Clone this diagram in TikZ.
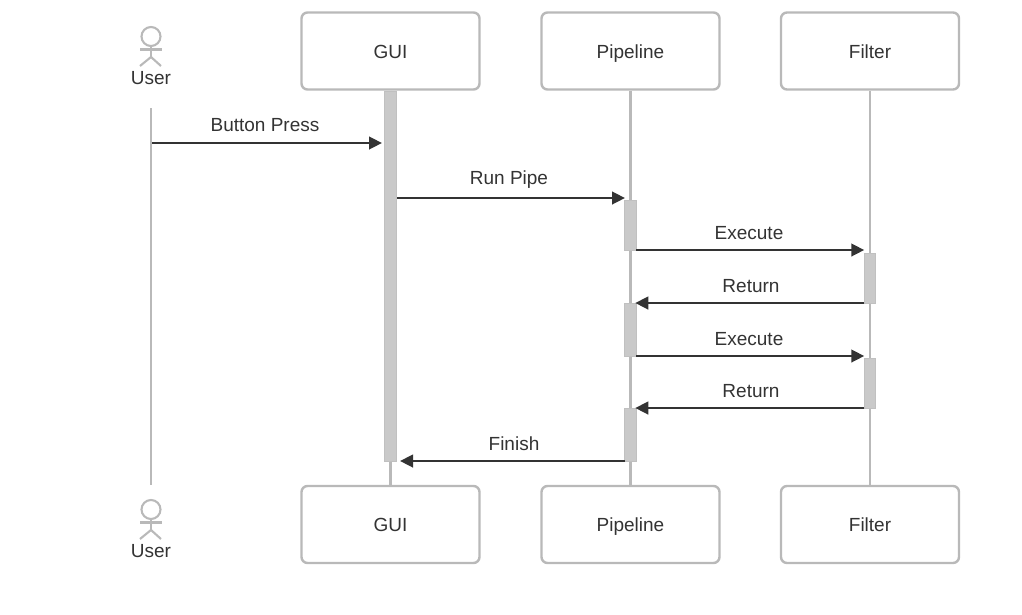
\documentclass[tikz,border=0pt]{standalone}
\usepackage{fontspec}
\setmainfont{Liberation Sans}
\usepackage{tikz}
\usetikzlibrary{arrows.meta,calc}
\definecolor{partgray}{HTML}{B9B9B9}
\definecolor{bargray}{HTML}{C9C9C9}
\definecolor{inkgray}{HTML}{333333}
\tikzset{
  partbox/.style={draw=partgray,line width=2.4pt,rounded corners=6pt,fill=white,
    minimum width=178pt,minimum height=77pt,inner sep=0pt,text=inkgray,
    text height=14pt,text depth=0pt,font=\fontsize{19}{22}\selectfont},
  lifeline/.style={draw=partgray,line width=2.2pt},
  actbar/.style={draw=partgray!90!white,line width=.8pt,fill=bargray,
    minimum width=11.5pt,inner sep=0pt,outer sep=0pt},
  msg/.style={-{Triangle[length=13pt,width=12.5pt]},draw=inkgray,line width=2.6pt},
  msgback/.style={msg,shorten >=-1pt},
  msglabel/.style={anchor=base,text=inkgray,inner sep=0pt,font=\fontsize{19}{22}\selectfont},
  actorline/.style={draw=partgray,line width=2.1pt},
}
\begin{document}
\begin{tikzpicture}[x=1pt,y=-1pt,>=Stealth,line join=miter]
    \useasboundingbox (0,0) rectangle (1022,614);

    % Boxes of the three parts, top and bottom row.
    \node[partbox] (guitop) at (390.5,51) {GUI};
    \node[partbox] (pipetop) at (630.5,51) {Pipeline};
    \node[partbox] (filtertop) at (870,51) {Filter};
    \node[partbox] (guibot) at (390.5,524.5) {GUI};
    \node[partbox] (pipebot) at (630.5,524.5) {Pipeline};
    \node[partbox] (filterbot) at (870,524.5) {Filter};

    % The user at both ends of its lifeline.
    \foreach \name/\yy in {usertop/0,userbot/473} {
      \begin{scope}[yshift=-\yy pt]
        \draw[actorline] (151,36.5) circle (9.5);
        \draw[actorline] (151,46) -- (151,57) (140,49.5) -- (162,49.5);
        \draw[actorline] (140,66) -- (151,57) -- (161,66);
        \node[msglabel] (\name) at (151,84.5) {User};
      \end{scope}
    }
    \coordinate (userstart) at (151,108);
    \coordinate (userend) at (151,485);

    % Lifelines.
    \draw[lifeline] (userstart) -- (userend);
    \draw[lifeline] (guitop.south) -- (guibot.north);
    \draw[lifeline] (pipetop.south) -- (pipebot.north);
    \draw[lifeline] (filtertop.south) -- (filterbot.north);

    % Activation bars.
    \node[actbar,minimum height=370pt] (guibar) at (390.5,276) {};
    \node[actbar,minimum height=50pt] (pipebara) at (630.5,225) {};
    \node[actbar,minimum height=53pt] (pipebarb) at (630.5,329.5) {};
    \node[actbar,minimum height=53pt] (pipebarc) at (630.5,434.5) {};
    \node[actbar,minimum height=50pt] (filterbara) at (870,278) {};
    \node[actbar,minimum height=50pt] (filterbarb) at (870,383) {};

    % Messages.
    \coordinate (pressfrom) at (152,143);
    \coordinate (pressto) at (382,143);
    \coordinate (runfrom) at (397,198);
    \coordinate (runto) at (625,198);
    \coordinate (finishto) at (400,461);
    \draw[msg] (pressfrom) -- (pressto);
    \draw[msg] (runfrom) -- (runto);
    \draw[msg] (pipebara.south east) -- (pipebara.south east -| filterbara.west);
    \draw[msgback] (filterbara.south west) -- (filterbara.south west -| pipebarb.east);
    \draw[msg] (pipebarb.south east) -- (pipebarb.south east -| filterbarb.west);
    \draw[msgback] (filterbarb.south west) -- (filterbarb.south west -| pipebarc.east);
    \draw[msg] (pipebarc.south west) -- (pipebarc.south west -| finishto);

    % Message labels.
    \node[msglabel] (presslabel) at (265,131.5) {Button Press};
    \node[msglabel] (runlabel) at (509,184.5) {Run Pipe};
    \node[msglabel] (execlabela) at (749,239.5) {Execute};
    \node[msglabel] (retlabela) at (751,292.5) {Return};
    \node[msglabel] (execlabelb) at (749,345.5) {Execute};
    \node[msglabel] (retlabelb) at (751,397.5) {Return};
    \node[msglabel] (finishlabel) at (514,450.5) {Finish};
\end{tikzpicture}
\end{document}
